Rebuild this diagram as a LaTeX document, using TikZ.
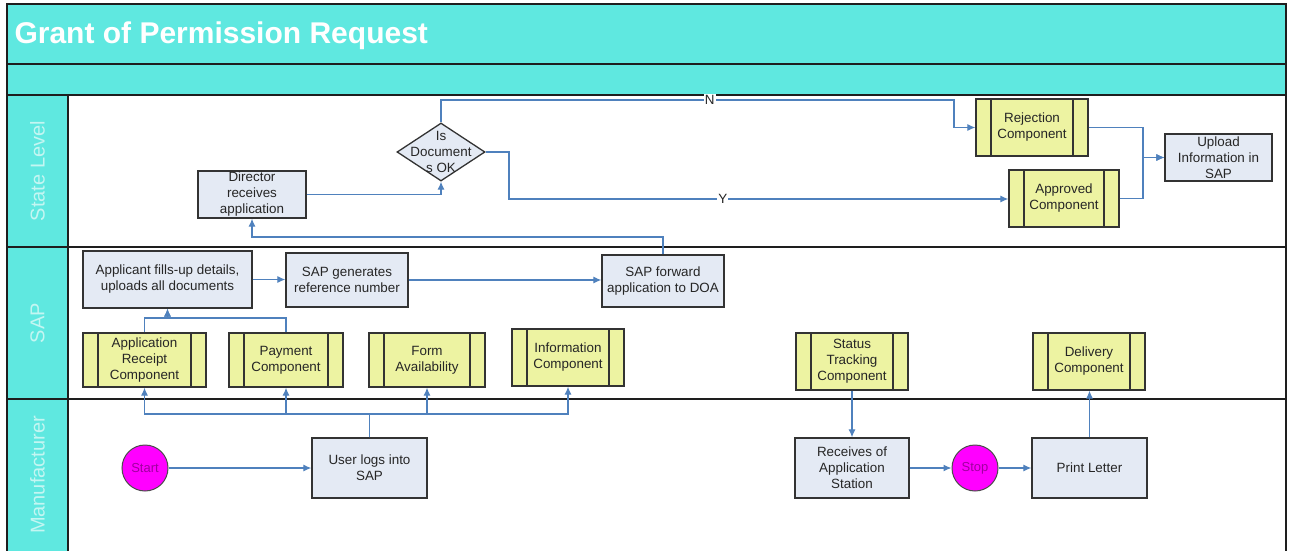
\documentclass[tikz,border=0pt]{standalone}
\usepackage{fontspec}
\setmainfont{Liberation Sans}
\usetikzlibrary{arrows.meta,shapes.geometric}
\definecolor{lanecyan}{HTML}{5FE8E0}
\definecolor{lanetext}{HTML}{C4F6F2}
\definecolor{boxfill}{HTML}{E4EAF4}
\definecolor{boxline}{HTML}{333333}
\definecolor{compfill}{HTML}{EDF3A2}
\definecolor{arrowblue}{HTML}{4F81BD}
\definecolor{gridline}{HTML}{1E1E1E}
\definecolor{termfill}{HTML}{FF00FF}
\definecolor{termtext}{HTML}{A000A0}
\tikzset{
  txt/.style={font=\fontsize{13.4}{16}\selectfont, align=center, text=black!85},
  procbox/.style={txt, draw=boxline, fill=boxfill, line width=1.3pt, inner sep=0pt},
  compbox/.style={txt, draw=boxline, fill=compfill, line width=1.3pt, inner sep=0pt,
    path picture={
      \draw[boxline, line width=1.3pt]
        ([xshift=15pt]path picture bounding box.north west) -- ([xshift=15pt]path picture bounding box.south west)
        ([xshift=-15pt]path picture bounding box.north east) -- ([xshift=-15pt]path picture bounding box.south east);
    }},
  decision/.style={diamond, draw=boxline, fill=boxfill, line width=1.3pt, inner sep=0pt},
  terminal/.style={circle, draw=black!70, fill=termfill, line width=1pt, minimum size=46pt, inner sep=0pt,
    font=\fontsize{13}{15}\selectfont, text=termtext},
  arr/.style={draw=arrowblue, line width=1.2pt, -{Latex[length=8pt,width=7pt]}},
  lbl/.style={font=\fontsize{13.4}{16}\selectfont, fill=white, inner sep=1pt, text=black!85},
  lanelbl/.style={rotate=90, font=\fontsize{20}{24}\selectfont, text=lanetext},
  grid/.style={draw=gridline, line width=1.5pt}
}
\begin{document}
\begin{tikzpicture}[x=1pt,y=-1pt]
\useasboundingbox (0,0) rectangle (1291,551);
% lanes and bands
\fill[lanecyan] (7,4) rectangle (1286,95);
\fill[lanecyan] (7,95) rectangle (68,551);
\fill[white] (68,95) rectangle (1286,551);
\draw[grid] (7,551) -- (7,4) -- (1286,4) -- (1286,551);
\draw[grid] (7,64) -- (1286,64);
\draw[grid] (7,95) -- (1286,95);
\draw[grid] (7,247) -- (1286,247);
\draw[grid] (7,399) -- (1286,399);
\draw[grid] (68,95) -- (68,551);
\node[anchor=base west, font=\bfseries\fontsize{30}{36}\selectfont, text=white] (title) at (11,44) {Grant of Permission Request};
\node[lanelbl] (lstate) at (37.5,171) {State Level};
\node[lanelbl] (lsap) at (37.5,323) {SAP};
\node[lanelbl] (lman) at (37.5,475) {Manufacturer};

% State level
\node[procbox, minimum width=108pt, minimum height=47pt] (dir) at (252,194.5) {Director\\receives\\application};
\node[decision, minimum width=88pt, minimum height=58pt] (dec) at (441,152) {};
\node[txt] (dectext) at (dec.center) {Is\\Document\\s OK};
\node[compbox, minimum width=112pt, minimum height=57pt] (rej) at (1032,127.5) {Rejection\\Component};
\node[compbox, minimum width=110pt, minimum height=57pt] (appr) at (1064,198.5) {Approved\\Component};
\node[procbox, minimum width=107pt, minimum height=47pt] (upl) at (1218.5,157.5) {Upload\\Information in\\SAP};

% SAP
\node[procbox, minimum width=169pt, minimum height=57pt] (appl) at (167.5,279.5) {Applicant fills-up details,\\uploads all documents};
\node[procbox, minimum width=122pt, minimum height=54pt] (sapgen) at (347,280) {SAP generates\\reference number};
\node[procbox, minimum width=122pt, minimum height=52pt] (sapfwd) at (663,281) {SAP forward\\application to DOA};
\node[compbox, minimum width=123pt, minimum height=54pt] (rcpt) at (144.5,360) {Application\\Receipt\\Component};
\node[compbox, minimum width=114pt, minimum height=54pt] (pay) at (286,360) {Payment\\Component};
\node[compbox, minimum width=116pt, minimum height=54pt] (form) at (427,360) {Form\\Availability};
\node[compbox, minimum width=112pt, minimum height=57pt] (info) at (568,357.5) {Information\\Component};
\node[compbox, minimum width=112pt, minimum height=57pt] (status) at (852,361.5) {Status\\Tracking\\Component};
\node[compbox, minimum width=112pt, minimum height=57pt] (deliv) at (1089,361.5) {Delivery\\Component};

% Manufacturer
\node[terminal] (start) at (145,468) {Start};
\node[procbox, minimum width=115pt, minimum height=60pt] (user) at (369.5,468) {User logs into\\SAP};
\node[procbox, minimum width=114pt, minimum height=60pt] (recv) at (852,468) {Receives of\\Application\\Station};
\node[terminal] (stop) at (975,468) {Stop};
\node[procbox, minimum width=115pt, minimum height=60pt] (print) at (1089.5,468) {Print Letter};

% helper coordinates
\coordinate (bus) at (0,414);
\coordinate (m1) at (0,318);
\coordinate (m2) at (0,237);
\coordinate (nl) at (0,100);
\coordinate (nx) at (954,0);
\coordinate (yx) at (509,0);
\coordinate (yl) at (0,199);
\coordinate (ux) at (1143,0);

% connectors
\draw[arr] (start.east) -- (user.west);
\draw[arr] (user.north) -- (user.north |- bus) -| (rcpt.south);
\draw[arr] (user.north) -- (user.north |- bus) -| (pay.south);
\draw[arr] (user.north) -- (user.north |- bus) -| (form.south);
\draw[arr] (user.north) -- (user.north |- bus) -| (info.south);
\draw[arr] (rcpt.north) -- (rcpt.north |- m1) -| (appl.south);
\draw[arr] (pay.north) -- (pay.north |- m1) -| (appl.south);
\draw[arr] (appl.east) -- (appl.east -| sapgen.west);
\draw[arr] (sapgen.east) -- (sapgen.east -| sapfwd.west);
\draw[arr] (sapfwd.north) -- (sapfwd.north |- m2) -| (dir.south);
\draw[arr] (dir.east) -| (dec.south);
\draw[arr] (dec.north) -- (dec.north |- nl) -- node[lbl, pos=0.524] (nlab) {N} (nx |- nl) |- (rej.west);
\draw[arr] (dec.east) -- (yx |- dec.east) -- (yx |- yl) -- node[lbl, pos=0.428] (ylab) {Y} (appr.west |- yl);
\draw[arr] (rej.east) -- (ux |- rej.east) |- (upl.west);
\draw[arr] (appr.east) -- (ux |- appr.east) |- (upl.west);
\draw[arr] (status.south) -- (recv.north);
\draw[arr] (recv.east) -- (stop.west);
\draw[arr] (stop.east) -- (print.west);
\draw[arr] (print.north) -- (print.north |- deliv.south);
\end{tikzpicture}
\end{document}
